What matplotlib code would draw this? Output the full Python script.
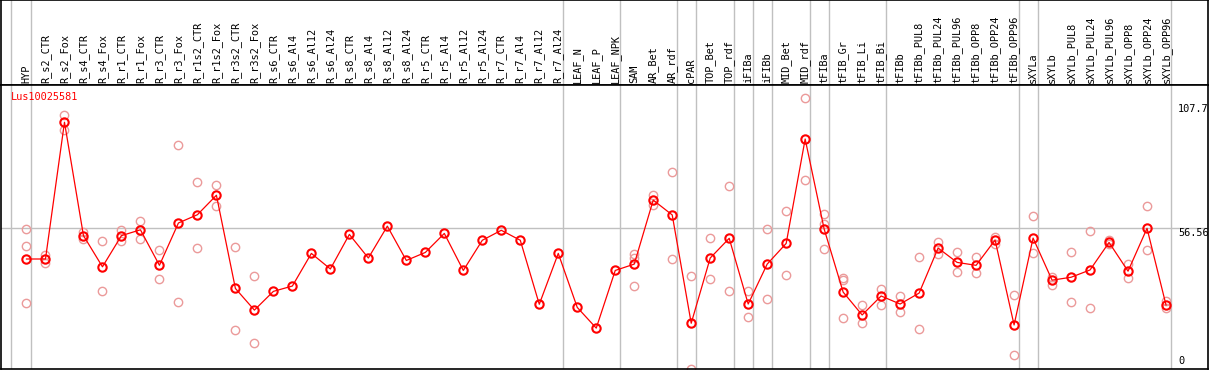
import matplotlib
matplotlib.use("Agg")
import matplotlib.pyplot as plt

# categories (columns of the header)
samples = ["HYP", "R_s2_CTR", "R_s2_Fox", "R_s4_CTR", "R_s4_Fox", "R_r1_CTR", "R_r1_Fox",
           "R_r3_CTR", "R_r3_Fox", "R_r1s2_CTR", "R_r1s2_Fox", "R_r3s2_CTR", "R_r3s2_Fox",
           "R_s6_CTR", "R_s6_Al4", "R_s6_Al12", "R_s6_Al24", "R_s8_CTR", "R_s8_Al4",
           "R_s8_Al12", "R_s8_Al24", "R_r5_CTR", "R_r5_Al4", "R_r5_Al12", "R_r5_Al24",
           "R_r7_CTR", "R_r7_Al4", "R_r7_Al12", "R_r7_Al24", "LEAF_N", "LEAF_P", "LEAF_NPK",
           "SAM", "AR_Bet", "AR_rdf", "cPAR", "TOP_Bet", "TOP_rdf", "iFIBa", "iFIBb",
           "MID_Bet", "MID_rdf", "tFIBa", "tFIB_Gr", "tFIB_Li", "tFIB_Bi", "tFIBb",
           "tFIBb_PUL8", "tFIBb_PUL24", "tFIBb_PUL96", "tFIBb_OPP8", "tFIBb_OPP24",
           "tFIBb_OPP96", "sXYLa", "sXYLb", "sXYLb_PUL8", "sXYLb_PUL24", "sXYLb_PUL96",
           "sXYLb_OPP8", "sXYLb_OPP24", "sXYLb_OPP96"]

# mean expression per sample
means = [44.0, 44.0, 100.2, 53.6, 40.8, 53.6, 56.0, 41.4, 58.8, 62.2, 70.2, 31.9, 23.0,
         30.7, 32.9, 46.3, 39.9, 54.1, 44.4, 57.5, 43.4, 46.7, 54.5, 39.3, 51.7,
         55.8, 51.7, 25.4, 46.3, 24.1, 15.6, 39.3,
         41.9, 68.2, 62.1, 17.6, 44.4, 52.5, 25.5, 41.9, 50.4, 93.3,
         56.3, 30.4, 21.0, 28.8, 25.5, 30.0, 48.5, 42.6, 41.4, 51.8, 16.9,
         52.6, 35.3, 36.5, 39.5, 50.8, 39.0, 56.6, 25.1]

# replicate values (empty where none are drawn)
replicates = {
    "HYP": [56.3, 49.2, 25.8],
    "R_s2_CTR": [45.6, 42.2],
    "R_s2_Fox": [103.2, 97.0],
    "R_s4_CTR": [55.2, 52.2],
    "R_s4_Fox": [51.3, 30.7],
    "R_r1_CTR": [55.9, 51.5],
    "R_r1_Fox": [59.6, 52.3],
    "R_r3_CTR": [47.6, 35.6],
    "R_r3_Fox": [90.7, 26.2],
    "R_r1s2_CTR": [75.5, 48.4],
    "R_r1s2_Fox": [74.4, 65.6],
    "R_r3s2_CTR": [48.8, 14.7],
    "R_r3s2_Fox": [36.9, 9.5],
    "SAM": [45.9, 44.3, 32.9],
    "AR_Bet": [70.4, 66.1],
    "AR_rdf": [79.6, 44.0],
    "cPAR": [37.0, -1.1],
    "TOP_Bet": [52.5, 35.8],
    "TOP_rdf": [73.9, 30.8],
    "iFIBa": [30.8, 20.0],
    "iFIBb": [56.2, 27.5],
    "MID_Bet": [63.7, 37.3],
    "MID_rdf": [110.0, 76.3],
    "tFIBa": [62.4, 58.2, 48.1],
    "tFIB_Gr": [36.3, 35.2, 19.7],
    "tFIB_Li": [25.1, 17.7],
    "tFIB_Bi": [31.6, 25.1],
    "tFIBb": [28.8, 22.1],
    "tFIBb_PUL8": [44.7, 15.1],
    "tFIBb_PUL24": [51.0, 45.9],
    "tFIBb_PUL96": [46.7, 38.5],
    "tFIBb_OPP8": [44.7, 38.1],
    "tFIBb_OPP24": [53.1, 50.0],
    "tFIBb_OPP96": [29.2, 4.5],
    "sXYLa": [61.7, 46.3],
    "sXYLb": [36.7, 33.3],
    "sXYLb_PUL8": [46.7, 26.2],
    "sXYLb_PUL24": [55.4, 23.8],
    "sXYLb_PUL96": [51.8, 50.1],
    "sXYLb_OPP8": [41.9, 36.0],
    "sXYLb_OPP24": [65.6, 47.6],
    "sXYLb_OPP96": [26.7, 23.7],
}

# last sample of each group -> separator line after it
group_ends = ["HYP", "R_r7_Al24", "LEAF_NPK", "AR_rdf", "cPAR", "TOP_rdf", "iFIBa", "iFIBb",
              "MID_rdf", "tFIBa", "tFIB_Bi", "tFIBb_OPP96", "sXYLa", "sXYLb_OPP96"]

gene = "Lus10025581"
y_ticks = [107.7, 56.56, 0]

W, H = 1209, 370
fig = plt.figure(figsize=(W / 100, H / 100), dpi=100)
plt.rcParams["font.family"] = "DejaVu Sans Mono"

x = list(range(len(samples)))
xlim = (-26 / 19, (1208 - 26) / 19)
grid_col = "#c0c0c0"
fs = 7.4

# header with sample names
hdr = fig.add_axes([0.5 / W, (H - 85) / H, 1207.5 / W, 85 / H])
hdr.set_xlim(*xlim)
hdr.set_ylim(85, 0)
hdr.set_xticks([])
hdr.set_yticks([])
for s in hdr.spines.values():
    s.set_linewidth(1.2)
for i, name in enumerate(samples):
    hdr.text(i, 83, name, rotation=90, ha="center", va="bottom", fontsize=fs)

# main plot
ax = fig.add_axes([0.5 / W, 1 / H, 1207.5 / W, 284 / H])
ax.set_xlim(*xlim)
ax.set_ylim(-1.2, 115.5)
ax.set_xticks([])
ax.set_yticks([])
for s in ax.spines.values():
    s.set_linewidth(1.2)

for a in (hdr, ax):
    a.axvline(-0.84, color=grid_col, lw=1)
    for g in group_ends:
        a.axvline(samples.index(g) + 0.24, color=grid_col, lw=1)
ax.axhline(56.56, color=grid_col, lw=1)

for i, name in enumerate(samples):
    reps = replicates.get(name, [])
    ax.plot([i] * len(reps), reps, "o", mfc="none", mec="#eb9a9a", ms=6, mew=1.0)
ax.plot(x, means, "-", color="red", lw=0.9)
ax.plot(x, means, "o", mfc="none", mec="red", ms=6, mew=1.5)

ax.text(10 / 1208, 1 - 12.5 / 284, gene, transform=ax.transAxes, color="red",
        fontsize=fs, ha="left", va="center")
for v in y_ticks:
    ax.text(1178 / 1208, v, f"{v:g}", fontsize=fs, ha="left",
            va="bottom" if v == 0 else "top",
            transform=ax.get_yaxis_transform())

fig.savefig("out.png", dpi=100)
